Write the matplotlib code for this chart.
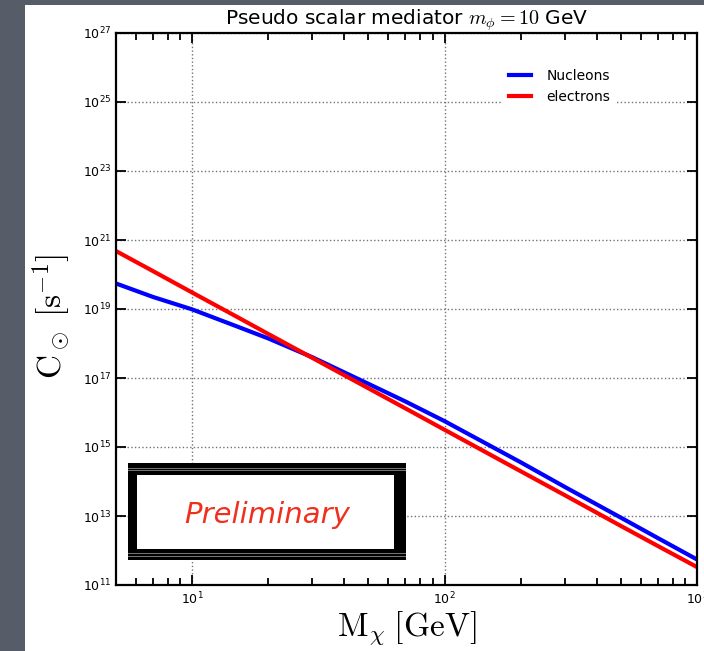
import numpy as np
import matplotlib
matplotlib.use("Agg")
import matplotlib.pyplot as plt
from matplotlib.patches import Rectangle

plt.rcParams['mathtext.fontset'] = 'cm'
plt.rcParams['font.family'] = ['DejaVu Sans']

# dark matter mass [GeV]
mass = [5, 7, 10, 15, 20, 30, 50, 70, 100, 200, 300, 500, 700, 1000]
# log10 of capture rate [1/s]
log_c_nucleons = [19.74, 19.35, 18.99, 18.50, 18.15, 17.60, 16.83, 16.32,
                  15.75, 14.56, 13.84, 12.95, 12.36, 11.74]
log_c_electrons = [20.68, 20.10, 19.48, 18.78, 18.28, 17.58, 16.70, 16.12,
                   15.50, 14.30, 13.60, 12.71, 12.13, 11.52]

xlim = (5, 1000)
ylim = (1e11, 1e27)
yticks = [1e11, 1e13, 1e15, 1e17, 1e19, 1e21, 1e23, 1e25, 1e27]

W, H = 704, 651
fig = plt.figure(figsize=(W / 100, H / 100), dpi=100)
fig.patch.set_facecolor('#575c69')
# white slide panel behind the axes
fig.patches.append(Rectangle((25 / W, 0), 1, (H - 5) / H, transform=fig.transFigure,
                             facecolor='white', edgecolor='none', zorder=-1))

ax = fig.add_axes([116 / W, 66 / H, 581 / W, 552 / H])
ax.plot(mass, 10 ** np.array(log_c_nucleons), color='blue', lw=3, label='Nucleons')
ax.plot(mass, 10 ** np.array(log_c_electrons), color='red', lw=3, label='electrons')
ax.set_xscale('log')
ax.set_yscale('log')
ax.set_xlim(*xlim)
ax.set_ylim(*ylim)
ax.set_yticks(yticks)
ax.yaxis.set_minor_locator(matplotlib.ticker.NullLocator())

ax.grid(True, which='major', color='0.45', linestyle=':', lw=1)
for s in ax.spines.values():
    s.set_linewidth(1.6)
ax.tick_params(which='both', direction='in', top=True, right=True, width=1.3, labelsize=9)
ax.tick_params(which='major', length=7)
ax.tick_params(which='minor', length=5)
ax.tick_params(axis='x', pad=4)

ax.set_title(r'Pseudo scalar mediator $m_\phi = 10$ GeV', fontsize=14.5, pad=5)
ax.set_xlabel(r'$\mathrm{M}_\chi\;[\mathrm{GeV}]$', fontsize=24)
ax.set_ylabel(r'$\mathrm{C}_\odot\;[\mathrm{s}^{-1}]$', fontsize=24)
ax.xaxis.set_label_coords(0.5, -0.044)
ax.yaxis.set_label_coords(-0.074, 0.487)

leg = ax.legend(loc='upper right', bbox_to_anchor=(0.872, 0.958), fontsize=10,
                handlelength=1.6, handletextpad=1.1, labelspacing=0.55,
                frameon=True, framealpha=1, edgecolor='none', fancybox=False)

# "Preliminary" stamp
def px_rect(x0, y0, x1, y1, **kw):
    return Rectangle((x0 / W, 1 - y1 / H), (x1 - x0) / W, (y1 - y0) / H,
                     transform=fig.transFigure, **kw)

fig.patches.append(px_rect(128, 463, 406, 560, facecolor='black', edgecolor='none', zorder=5))
fig.patches.append(px_rect(137, 475, 394, 549, facecolor='white', edgecolor='none', zorder=6))
for y0 in (468, 470, 553, 556):
    fig.patches.append(px_rect(128, y0, 406, y0 + 1, facecolor='0.45', edgecolor='none', zorder=6))
fig.text(267 / W, 1 - 515 / H, 'Preliminary', color='#f0301e', fontsize=21,
         ha='center', va='center', family='DejaVu Sans', style='italic', zorder=7)

fig.savefig('out.png', dpi=100, facecolor=fig.get_facecolor())
